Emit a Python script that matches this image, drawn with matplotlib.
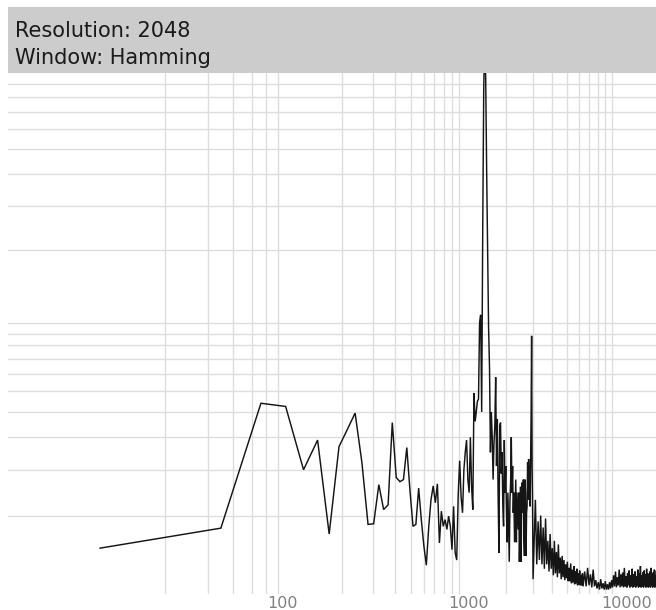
import numpy as np
import matplotlib
matplotlib.use("Agg")
import matplotlib.pyplot as plt
from matplotlib.patches import Rectangle
from matplotlib.transforms import ScaledTranslation

# ---------------- data ----------------
SAMPLE_RATE = 44100
FFT_SIZE = 2048
header_lines = ["Resolution: 2048", "Window: Hamming"]

# magnitudes per FFT bin, bins 2..60
mag_a = [5.0, 7.9, 44, 42.5, 20, 29, 7.0, 26.8, 33, 39.5,
         22, 8.5, 8.6, 16.3, 11.1, 12, 35.5, 18, 17, 17.5,
         26.5, 15, 8.2, 8.5, 15.5, 9.3, 5.3, 2.9, 8, 13,
         16, 12.4, 16.5, 5.7, 10.8, 8.2, 9.3, 7.7, 9.9, 8.2,
         4.8, 11.7, 4.4, 3.5, 14, 22.5, 13.6, 10.5, 20, 25,
         29, 17.5, 14.5, 30, 15.8, 11.1, 49, 36, 40]
# bins 61..140
mag_b = [45, 46, 100, 108, 40, 240, 860, 1400, 930, 400,
         200, 95, 64, 25, 40, 30, 17.5, 28, 34, 58,
         21, 37, 13.6, 4.4, 34, 35.5, 19, 25, 11.7, 8.2,
         29, 14.5, 21, 10.5, 5.8, 14.5, 7.7, 3.3, 13, 16.8,
         30, 14.5, 21, 10.5, 14.5, 5.8, 10.5, 17.5, 5.8, 14.5,
         10.5, 7.7, 14.5, 3.3, 7.7, 15.8, 3.3, 13, 16.8, 10.5,
         17.5, 6.2, 4, 17.5, 14.5, 4, 10.5, 11.7, 22, 13,
         23, 17.5, 21, 11.7, 23, 40, 88, 21, 11.7, 1.4]
# every 3rd bin from 142
mag_c = [5, 13, 3, 9, 3.5, 10, 3, 8, 2.5, 9.5,
         3, 6, 2.2, 7, 2.5, 5, 1.8, 6, 2, 4.5,
         1.6, 5.5, 2, 3.8, 1.4, 4, 1.6, 3.5, 1.3, 3,
         1.5, 3.3, 1.2, 2.6, 1.2, 3.1, 1.0, 2.4, 1.1, 2.8,
         0.9, 2.2, 1.0, 2.5, 0.8, 2.0, 0.9, 2.3, 0.8, 1.8,
         0.8, 2.0, 0.7]
# every 7th bin from 305
mag_d = [2.2, 0.7, 2.6, 0.8, 1.9, 0.6, 2.4, 0.7,
         1.3, 0.5, 1.1, 0.4, 1.4, 0.5, 1.0, 0.4, 1.2, 0.4, 0.9, 0.4, 1.1, 0.5, 1.3,
         0.6, 1.8, 0.7, 2.2, 0.6, 1.6, 0.8, 2.4, 0.6, 1.9,
         0.7, 2.1, 0.6, 2.6, 0.7, 1.7, 0.6, 2.0, 0.8, 2.3,
         0.6, 1.8, 0.7, 2.5, 0.6, 1.9, 0.7, 2.2, 0.6, 1.7,
         0.8, 2.4, 0.6, 2.0, 0.7, 2.8, 0.6, 1.8, 0.7, 2.1,
         0.6, 2.3, 0.8, 1.9, 0.6, 2.5, 0.7, 2.0, 0.6, 1.8,
         0.7, 2.2, 0.6, 2.6, 0.8, 1.9, 0.6, 2.1, 0.7, 2.4,
         0.6, 1.8, 0.7, 2.3, 0.6, 2.0, 0.7, 2.2]

x_major = [100, 1000, 10000]
x_minor = [50, 60, 70, 80, 90, 200, 300, 400, 500, 600, 700, 800, 900,
           2000, 3000, 4000, 5000, 6000, 7000, 8000, 9000]
y_grid = [10, 20, 30, 40, 50, 60, 70, 80, 90, 100,
          200, 300, 400, 500, 600, 700, 800, 900]

# ---------------- build series ----------------
bins = np.concatenate([
    2 + np.arange(len(mag_a)),
    61 + np.arange(len(mag_b)),
    142 + 3 * np.arange(len(mag_c)),
    305 + 7 * np.arange(len(mag_d)),
])
mags = np.concatenate([mag_a, mag_b, mag_c, mag_d])
freqs = bins * SAMPLE_RATE / FFT_SIZE

# ---------------- figure ----------------
W, H = 656, 610
fig = plt.figure(figsize=(W / 100, H / 100), dpi=100)
fig.patch.set_facecolor("white")
ax = fig.add_axes([8 / W, 16 / H, 648 / W, 522 / H])


def fx(f):
    return np.log10(np.clip(np.asarray(f, dtype=float) - 39.0, 1e-9, None))


def ifx(u):
    return 10 ** np.asarray(u, dtype=float) + 39.0


def fy(v):
    return np.log10(np.clip(np.asarray(v, dtype=float) + 10.0, 1e-9, None))


def ify(u):
    return 10 ** np.asarray(u, dtype=float) - 10.0


ax.set_xscale("function", functions=(fx, ifx))
ax.set_yscale("function", functions=(fy, ify))

ax.plot(freqs, mags, color="#151515", lw=1.05, solid_joinstyle="miter", zorder=3)

ax.set_xlim(40, 19400)
ax.set_ylim(0, 1000)

ax.set_xticks(x_major)
ax.set_xticklabels([str(v) for v in x_major])
ax.set_xticks(x_minor, minor=True)
ax.set_yticks(y_grid)
ax.set_yticklabels([])
ax.tick_params(axis="both", which="both", length=0)
ax.tick_params(axis="x", which="major", pad=1.5, labelsize=11.5, labelcolor="#808080")
ax.grid(True, which="both", color="#dddddd", lw=1.0)
ax.set_axisbelow(True)
for s in ax.spines.values():
    s.set_visible(False)

off = ScaledTranslation(-11 / 100, 0, fig.dpi_scale_trans)
for lbl in ax.get_xticklabels():
    lbl.set_horizontalalignment("left")
    lbl.set_transform(lbl.get_transform() + off)

# header banner
fig.patches.append(Rectangle((8 / W, (H - 72.5) / H), 648 / W, 66 / H,
                             transform=fig.transFigure, facecolor="#cccccc",
                             edgecolor="none", zorder=5))
fig.text(15 / W, (H - 36.7) / H, header_lines[0], fontsize=15, color="#1a1a1a",
         va="baseline", ha="left", zorder=6)
fig.text(15 / W, (H - 64) / H, header_lines[1], fontsize=15, color="#1a1a1a",
         va="baseline", ha="left", zorder=6)

fig.savefig("out.png", dpi=100)
